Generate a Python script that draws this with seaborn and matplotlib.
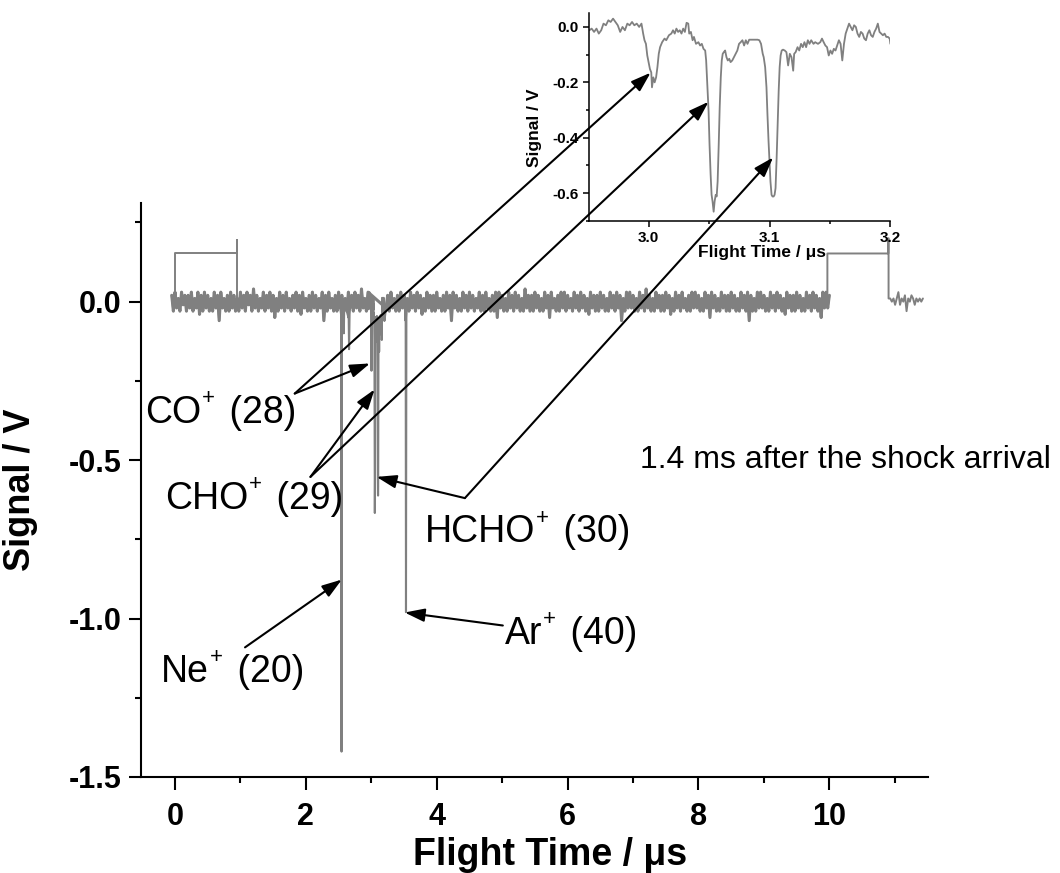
import numpy as np
import pandas as pd
import matplotlib
matplotlib.use('Agg')
import matplotlib.pyplot as plt
from matplotlib.ticker import MultipleLocator, FormatStrFormatter
import seaborn as sns

# ── Data ───────────────────────────────────────────────────────────────────────

# baseline noise of the TOF trace, cV, sampled every 0.025 us from -0.05 us
noise_t0, noise_dt = -0.05, 0.025
noise_cv = [
    2, -3, 3, -2, 1, -3, 3, -1, 2, -3, 2, -2, 3, -3, 1, -2, 3, -4, 2, -3,
    3, -2, 2, -3, 1, -3, 3, -2, 2, -6, 3, -2, 1, -3, 2, -3, 3, -2, 2, -3,
    1, -3, 3, -2, 2, -3, 3, -1, 2, -3, 4, -2, 2, -3, 1, -2, 3, -3, 2, -2,
    3, -3, 2, -5, 1, -3, 3, -2, 2, -3, 3, -2, 1, -3, 2, -2, 3, -3, 2, -4,
    3, -2, 1, -3, 2, -3, 3, -2, 2, -3, 1, -2, 3, -6, 2, -3, 3, -2, 1, -3,
    2, -3, 3, -2, 2, -3, 1, -3, 3, -2, 2, -3, 3, -2, 2, -3, 4, -2, 1, -3,
    3, -2, 2, -3, 3, -2, 2, -3, 1, -5, 3, -2, 2, -3, 3, -2, 1, -3, 2, -3,
    3, -2, 2, -3, 1, -3, 3, -2, 2, -3, 3, -2, 2, -4, 1, -3, 3, -2, 2, -3,
    2, -3, 3, -2, 1, -3, 2, -3, 3, -2, 2, -6, 3, -2, 2, -3, 1, -3, 3, -2,
    2, -3, 3, -2, 2, -3, 1, -2, 3, -3, 2, -3, 3, -2, 1, -3, 2, -3, 3, -5,
    3, -2, 2, -3, 1, -3, 3, -2, 2, -3, 3, -2, 2, -3, 1, -3, 4, -2, 2, -3,
    2, -3, 3, -2, 2, -3, 1, -3, 3, -2, 2, -5, 3, -2, 1, -3, 2, -3, 3, -2,
    3, -3, 2, -2, 1, -3, 3, -2, 2, -3, 3, -2, 2, -3, 1, -4, 3, -2, 2, -3,
    2, -3, 3, -2, 2, -3, 1, -3, 3, -2, 2, -3, 3, -2, 2, -6, 1, -3, 3, -2,
    3, -2, 2, -3, 1, -3, 3, -2, 2, -3, 4, -2, 2, -3, 1, -3, 3, -2, 2, -3,
    2, -3, 3, -2, 2, -4, 1, -3, 3, -2, 2, -3, 3, -2, 1, -3, 2, -3, 3, -2,
    3, -2, 2, -3, 1, -3, 3, -2, 2, -5, 3, -2, 2, -3, 1, -3, 3, -2, 2, -3,
    2, -3, 3, -2, 2, -3, 1, -3, 3, -2, 2, -3, 3, -6, 2, -3, 1, -3, 3, -2,
    3, -2, 2, -3, 1, -3, 3, -2, 2, -3, 3, -2, 2, -3, 1, -4, 3, -2, 2, -3,
    2, -3, 3, -2, 2, -3, 1, -3, 3, -2, 2, -3, 3, -2, 2, -3, 1, -5, 3, -2,
    3, -2, 2,
]

# narrow peaks outside the zoomed window (Ne+, Ne isotope, Ar+)
peak_t = [2.538, 2.545, 2.550, 2.560, 2.580, 2.585, 2.650, 2.660, 2.668, 3.525, 3.530, 3.536]
peak_v = [-0.04, -1.42, -0.08, -0.04, -0.10, -0.03, -0.05, -0.15, -0.04, -0.06, -0.98, -0.05]

# zoomed window 2.95 - 3.2 us (CO+, CHO+, HCHO+)
win_t = [
    2.9510, 2.9529, 2.9549, 2.9569, 2.9588, 2.9608, 2.9627, 2.9647, 2.9667, 2.9686,
    2.9706, 2.9725, 2.9745, 2.9765, 2.9784, 2.9804, 2.9824, 2.9843, 2.9863, 2.9882,
    2.9902, 2.9922, 2.9941, 2.9955, 2.9966, 2.9978, 2.9989, 3.0000, 3.0011, 3.0022,
    3.0028, 3.0039, 3.0050, 3.0062, 3.0073, 3.0084, 3.0095, 3.0112, 3.0132, 3.0146,
    3.0168, 3.0188, 3.0202, 3.0216, 3.0230, 3.0244, 3.0258, 3.0272, 3.0286, 3.0300,
    3.0314, 3.0328, 3.0336, 3.0350, 3.0364, 3.0375, 3.0392, 3.0412, 3.0426, 3.0440,
    3.0454, 3.0468, 3.0476, 3.0487, 3.0496, 3.0504, 3.0513, 3.0521, 3.0529, 3.0538,
    3.0546, 3.0555, 3.0563, 3.0571, 3.0580, 3.0588, 3.0597, 3.0605, 3.0613, 3.0622,
    3.0633, 3.0644, 3.0655, 3.0667, 3.0678, 3.0692, 3.0706, 3.0720, 3.0734, 3.0748,
    3.0762, 3.0776, 3.0790, 3.0804, 3.0818, 3.0832, 3.0846, 3.0874, 3.0902, 3.0916,
    3.0930, 3.0944, 3.0952, 3.0964, 3.0975, 3.0983, 3.0992, 3.1000, 3.1008, 3.1017,
    3.1025, 3.1034, 3.1042, 3.1050, 3.1059, 3.1067, 3.1076, 3.1084, 3.1092, 3.1101,
    3.1112, 3.1126, 3.1140, 3.1154, 3.1168, 3.1182, 3.1196, 3.1204, 3.1216, 3.1232,
    3.1246, 3.1261, 3.1275, 3.1289, 3.1303, 3.1317, 3.1331, 3.1345, 3.1364, 3.1378,
    3.1401, 3.1420, 3.1434, 3.1448, 3.1462, 3.1476, 3.1490, 3.1504, 3.1518, 3.1532,
    3.1546, 3.1560, 3.1574, 3.1588, 3.1602, 3.1616, 3.1630, 3.1644, 3.1658, 3.1672,
    3.1686, 3.1700, 3.1714, 3.1728, 3.1742, 3.1756, 3.1770, 3.1784, 3.1798, 3.1812,
    3.1826, 3.1840, 3.1854, 3.1868, 3.1882, 3.1896, 3.1910, 3.1924, 3.1938, 3.1952,
    3.1966, 3.1980, 3.1994, 3.2000,
]
win_v = [
    -0.012, -0.006, -0.018, -0.006, -0.024, -0.012, 0.012, 0.006, 0.024, 0.018,
    0.030, 0.018, 0.006, -0.018, 0.000, -0.012, 0.012, 0.006, 0.018, 0.006,
    0.012, 0.000, 0.012, -0.024, -0.048, -0.061, -0.103, -0.127, -0.152, -0.164,
    -0.218, -0.182, -0.200, -0.182, -0.145, -0.097, -0.073, -0.055, -0.042, -0.048,
    -0.030, -0.024, -0.012, -0.024, -0.006, -0.018, -0.012, -0.024, -0.006, -0.018,
    0.015, 0.012, -0.024, -0.018, -0.048, -0.036, -0.061, -0.055, -0.067, -0.061,
    -0.079, -0.085, -0.121, -0.218, -0.303, -0.424, -0.533, -0.606, -0.630, -0.667,
    -0.630, -0.606, -0.612, -0.558, -0.424, -0.291, -0.182, -0.121, -0.097, -0.091,
    -0.085, -0.109, -0.121, -0.115, -0.127, -0.121, -0.109, -0.097, -0.085, -0.061,
    -0.055, -0.048, -0.067, -0.048, -0.061, -0.046, -0.046, -0.046, -0.046, -0.048,
    -0.061, -0.097, -0.109, -0.145, -0.218, -0.315, -0.412, -0.485, -0.558, -0.606,
    -0.612, -0.612, -0.606, -0.582, -0.473, -0.364, -0.230, -0.145, -0.103, -0.085,
    -0.082, -0.085, -0.091, -0.139, -0.097, -0.109, -0.158, -0.097, -0.091, -0.073,
    -0.085, -0.061, -0.073, -0.055, -0.073, -0.048, -0.061, -0.048, -0.061, -0.055,
    -0.061, -0.055, -0.042, -0.055, -0.067, -0.073, -0.103, -0.085, -0.097, -0.079,
    -0.085, -0.067, -0.048, -0.061, -0.121, -0.061, -0.024, -0.006, 0.012, 0.000,
    -0.012, 0.006, 0.000, -0.024, -0.036, -0.018, -0.024, -0.042, -0.048, -0.024,
    -0.012, -0.030, -0.036, -0.018, -0.006, 0.012, -0.018, -0.024, -0.030, -0.024,
    -0.036, -0.036, -0.042, -0.061,
]

# trigger / gate pulses
gate1_t = [0.0, 0.0, 0.95, 0.95, 0.955, 0.955]
gate1_v = [0.0, 0.155, 0.155, 0.195, 0.195, 0.0]
gate2_t = [9.97, 9.97, 10.90, 10.90, 10.905, 10.905]
gate2_v = [0.0, 0.152, 0.152, 0.20, 0.20, 0.01]
tail_t = [10.93, 10.955, 10.98, 11.005, 11.03, 11.055, 11.08, 11.105, 11.13, 11.155,
          11.18, 11.205, 11.23, 11.255, 11.28, 11.305, 11.33, 11.355, 11.38, 11.405, 11.43]
tail_cv = [1, 0, 1, -1, 1, 3, -1, 1, 0, 2, -3, 1, 0, 2, 1, -1, 1, 0, 1, 0, 1]

# annotation labels (ion, mass, text pos, arrow start, targets in main / inset data)
ions = ['CO', 'CHO', 'HCHO', 'Ar', 'Ne']
masses = [' (28)', ' (29)', ' (30)', ' (40)', ' (20)']
label_xy = [(-0.46, -0.384), (-0.15, -0.654), (3.82, -0.760), (5.04, -1.079), (-0.21, -1.20)]
arrow_from = [(1.83, -0.29), (2.07, -0.553), (4.43, -0.62), (5.01, -1.022), (1.07, -1.091)]
main_to = [(2.98, -0.195), (3.05, -0.277), (3.08, -0.553), (3.51, -0.981), (2.55, -0.877)]
inset_to = [(3.0017, -0.165), (3.0496, -0.27), (3.103, -0.471), None, None]

note = '1.4 ms after the shock arrival'


# ── Assemble traces ────────────────────────────────────────────────────────────

base = pd.DataFrame({'t': noise_t0 + noise_dt * np.arange(len(noise_cv)),
                     'v': np.array(noise_cv) / 100.0})
window = pd.DataFrame({'t': win_t, 'v': win_v})
peaks = pd.DataFrame({'t': peak_t, 'v': peak_v})
outside = base[(base.t < win_t[0]) | (base.t > win_t[-1])]
main = pd.concat([outside, peaks, window]).sort_values('t').reset_index(drop=True)

gate1 = pd.DataFrame({'t': gate1_t, 'v': gate1_v})
gate2 = pd.concat([pd.DataFrame({'t': gate2_t, 'v': gate2_v}),
                   pd.DataFrame({'t': tail_t, 'v': np.array(tail_cv) / 100.0})])


# ── Figure ─────────────────────────────────────────────────────────────────────

sns.set_style('ticks')
plt.rcParams['font.family'] = ['Liberation Sans', 'DejaVu Sans']
plt.rcParams['axes.unicode_minus'] = False
for key in ['text.color', 'axes.labelcolor', 'axes.edgecolor', 'xtick.color', 'ytick.color']:
    plt.rcParams[key] = 'black'

grey = '#808080'
fig = plt.figure(figsize=(10.6, 8.73), dpi=100)
ax = fig.add_axes([0.133, 0.110, 0.742, 0.657])
ax_in = fig.add_axes([0.556, 0.747, 0.284, 0.238])

# noise band drawn a bit heavier so it reads as a solid strip
sns.lineplot(data=outside, x='t', y='v', ax=ax, estimator=None, sort=False,
             color=grey, lw=2.2)
sns.lineplot(data=main, x='t', y='v', ax=ax, estimator=None, sort=False,
             color=grey, lw=1.5)
for df in (gate1, gate2):
    sns.lineplot(data=df, x='t', y='v', ax=ax, estimator=None, sort=False,
                 color=grey, lw=1.4)

ax.set_xlim(-0.52, 11.5)
ax.set_ylim(-1.5, 0.31)
ax.xaxis.set_major_locator(MultipleLocator(2))
ax.xaxis.set_minor_locator(MultipleLocator(1))
ax.yaxis.set_major_locator(MultipleLocator(0.5))
ax.yaxis.set_minor_locator(MultipleLocator(0.25))
ax.yaxis.set_major_formatter(FormatStrFormatter('%.1f'))
ax.tick_params(axis='both', which='major', direction='out', length=9, width=1.5,
               labelsize=22)
ax.tick_params(axis='both', which='minor', direction='out', length=4.5, width=1.5)
ax.tick_params(axis='x', which='major', pad=9)
ax.tick_params(axis='y', which='major', pad=5)
for lab in ax.get_xticklabels() + ax.get_yticklabels():
    lab.set_fontweight('bold')
for s in ['top', 'right']:
    ax.spines[s].set_visible(False)
for s in ['left', 'bottom']:
    ax.spines[s].set_linewidth(1.5)
ax.set_xlabel('Flight Time / μs', fontsize=27, fontweight='bold')
ax.set_ylabel('Signal / V', fontsize=26, fontweight='bold')
ax.xaxis.set_label_coords(0.52, -0.105)
ax.yaxis.set_label_coords(-0.131, 0.5)

# inset
sns.lineplot(data=window, x='t', y='v', ax=ax_in, estimator=None, sort=False,
             color=grey, lw=1.3)
ax_in.patch.set_alpha(0)
ax_in.set_xlim(2.951, 3.2)
ax_in.set_ylim(-0.70, 0.05)
ax_in.xaxis.set_major_locator(MultipleLocator(0.1))
ax_in.xaxis.set_minor_locator(MultipleLocator(0.05))
ax_in.yaxis.set_major_locator(MultipleLocator(0.2))
ax_in.yaxis.set_minor_locator(MultipleLocator(0.1))
ax_in.xaxis.set_major_formatter(FormatStrFormatter('%.1f'))
ax_in.yaxis.set_major_formatter(FormatStrFormatter('%.1f'))
ax_in.tick_params(axis='both', which='major', direction='out', length=4.5, width=1.1,
                  labelsize=11, pad=3)
ax_in.tick_params(axis='both', which='minor', direction='out', length=2.5, width=1.1)
for lab in ax_in.get_xticklabels() + ax_in.get_yticklabels():
    lab.set_fontweight('bold')
for s in ['top', 'right']:
    ax_in.spines[s].set_visible(False)
for s in ['left', 'bottom']:
    ax_in.spines[s].set_linewidth(1.1)
ax_in.set_xlabel('Flight Time / μs', fontsize=12.5, fontweight='bold')
ax_in.set_ylabel('Signal / V', fontsize=12.5, fontweight='bold')
ax_in.xaxis.set_label_coords(0.575, -0.115)
ax_in.yaxis.set_label_coords(-0.156, 0.45)

# labels (ion name, raised '+', mass) and arrows
arrow_kw = dict(arrowstyle='-|>,head_length=0.6,head_width=0.2', color='black',
                lw=1.5, mutation_scale=20, shrinkA=0, shrinkB=0)
for ion, mass, txy, start, tgt, itgt in zip(ions, masses, label_xy, arrow_from,
                                            main_to, inset_to):
    t0 = ax.text(txy[0], txy[1], ion, fontsize=27, ha='left', va='baseline')
    plus = ax.annotate('+', xy=(1, 1), xycoords=t0, xytext=(0.5, 5),
                       textcoords='offset points', fontsize=16, ha='left', va='top')
    ax.annotate(mass, xy=(1, 0), xycoords=(plus, t0), xytext=(3, 0),
                textcoords='offset points', fontsize=27, ha='left', va='bottom')
    ax.annotate('', xy=tgt, xytext=start, arrowprops=arrow_kw)
    if itgt is not None:
        ax_in.annotate('', xy=itgt, xycoords='data', xytext=start,
                       textcoords=ax.transData, arrowprops=arrow_kw)

ax.text(7.10, -0.524, note, fontsize=23, ha='left', va='baseline')

fig.savefig('out.png', dpi=100)
